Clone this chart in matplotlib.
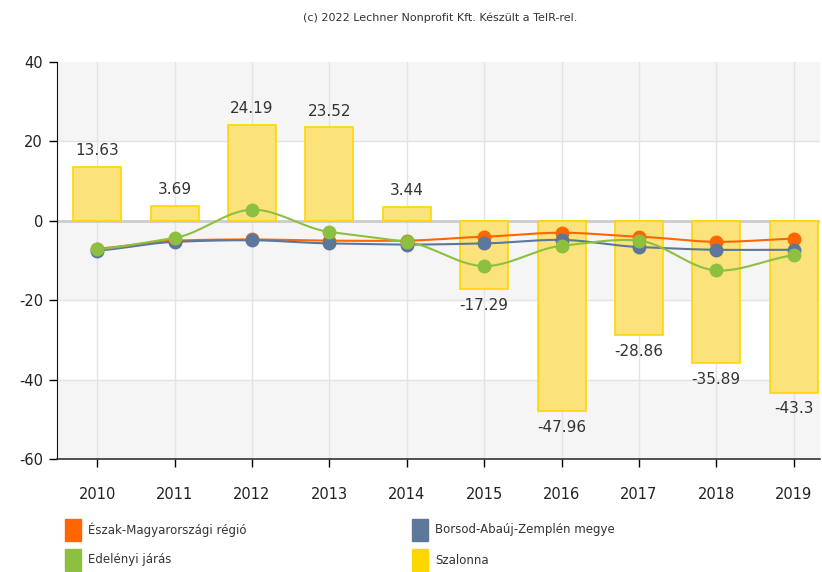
import numpy as np
import matplotlib
matplotlib.use("Agg")
import matplotlib.pyplot as plt
from matplotlib.patches import Rectangle

plt.rcParams["axes.unicode_minus"] = False


years = [2010, 2011, 2012, 2013, 2014, 2015, 2016, 2017, 2018, 2019]

eszak = [-7.0, -5.0, -4.7, -5.0, -5.0, -4.0, -3.0, -4.0, -5.3, -4.5]
borsod = [-7.5, -5.3, -4.9, -5.7, -6.0, -5.7, -4.8, -6.6, -7.3, -7.3]
edelenyi = [-7.2, -4.3, 2.8, -2.8, -5.3, -11.4, -6.3, -5.0, -12.5, -8.7]
szalonna = [13.63, 3.69, 24.19, 23.52, 3.44, -17.29, -47.96, -28.86, -35.89, -43.3]

series_names = ["Észak-Magyarországi régió", "Borsod-Abaúj-Zemplén megye",
                "Edelényi járás", "Szalonna"]

ORANGE = "#ff6600"
BLUE = "#5c7799"
GREEN = "#8dc040"
YELLOW = "#ffd700"


def smooth(x, y, steps=20):
    # catmull-rom style curve through the points, just for drawing
    x = np.asarray(x, dtype=float)
    y = np.asarray(y, dtype=float)
    px, py = [], []
    for i in range(len(x) - 1):
        y0 = y[i - 1] if i > 0 else y[i]
        y3 = y[i + 2] if i + 2 < len(y) else y[i + 1]
        m1 = (y[i + 1] - y0) / (2 if i > 0 else 1) * 0.6
        m2 = (y3 - y[i]) / (2 if i + 2 < len(y) else 1) * 0.6
        t = np.linspace(0, 1, steps)
        h00 = 2 * t**3 - 3 * t**2 + 1
        h10 = t**3 - 2 * t**2 + t
        h01 = -2 * t**3 + 3 * t**2
        h11 = t**3 - t**2
        px.extend(x[i] + t * (x[i + 1] - x[i]))
        py.extend(h00 * y[i] + h10 * m1 + h01 * y[i + 1] + h11 * m2)
    return px, py


fig = plt.figure(figsize=(8.22, 5.72), dpi=100)
ax = fig.add_axes([57 / 822, 1 - 459 / 572, 763 / 822, 397 / 572])

ax.set_xlim(2009.48, 2019.34)
ax.set_ylim(-60, 40)

# alternating background bands
for lo, hi, c in [(20, 40, "#f5f5f5"), (0, 20, "white"), (-20, 0, "#f5f5f5"),
                  (-40, -20, "white"), (-60, -40, "#f5f5f5")]:
    ax.axhspan(lo, hi, color=c, zorder=0, lw=0)

for yr in years:
    ax.axvline(yr, color="#e3e3e3", lw=1, zorder=1)
for v in [20, -20, -40]:
    ax.axhline(v, color="#e3e3e3", lw=1, zorder=1)
ax.axhline(0, color="#cccccc", lw=2, zorder=1)

ax.bar(years, szalonna, width=0.62, color="#fbe27a", edgecolor=YELLOW,
       linewidth=1.2, zorder=2)

for yr, v in zip(years, szalonna):
    if v >= 0:
        ax.text(yr, v + 2.2, f"{v:g}", ha="center", va="bottom",
                fontsize=11, color="#333333", zorder=6)
    else:
        ax.text(yr, v - 2.2, f"{v:g}", ha="center", va="top",
                fontsize=11, color="#333333", zorder=6)

for data, col in [(eszak, ORANGE), (borsod, BLUE), (edelenyi, GREEN)]:
    sx, sy = smooth(years, data)
    ax.plot(sx, sy, color=col, lw=1.5, zorder=3)
    ax.plot(years, data, "o", color=col, markersize=9, zorder=4)

ax.set_yticks([40, 20, 0, -20, -40, -60])
ax.set_xticks(years)
ax.tick_params(axis="y", labelsize=10.5, length=6, width=1, pad=4)
ax.tick_params(axis="x", labelsize=10.5, length=6, width=1, pad=14)
for lab in ax.get_xticklabels() + ax.get_yticklabels():
    lab.set_color("#222222")

ax.spines["top"].set_visible(False)
ax.spines["right"].set_visible(False)
ax.spines["left"].set_color("#111111")
ax.spines["bottom"].set_color("#333333")
ax.spines["bottom"].set_linewidth(1.2)

fig.text(440 / 822, 1 - 18 / 572, "(c) 2022 Lechner Nonprofit Kft. Készült a TeIR-rel.",
         ha="center", va="center", fontsize=8, color="#333333")

# legend, two columns under the plot
legend_pos = [(65, 530), (412, 530), (65, 560), (412, 560)]
legend_cols = [ORANGE, BLUE, GREEN, YELLOW]
for (lx, ly), name, col in zip(legend_pos, series_names, legend_cols):
    fig.patches.append(Rectangle((lx / 822, 1 - (ly + 11) / 572), 16 / 822, 22 / 572,
                                 transform=fig.transFigure, color=col))
    fig.text((lx + 23) / 822, 1 - ly / 572, name, ha="left", va="center",
             fontsize=8.5, color="#333333")

fig.savefig("out.png", dpi=100)
